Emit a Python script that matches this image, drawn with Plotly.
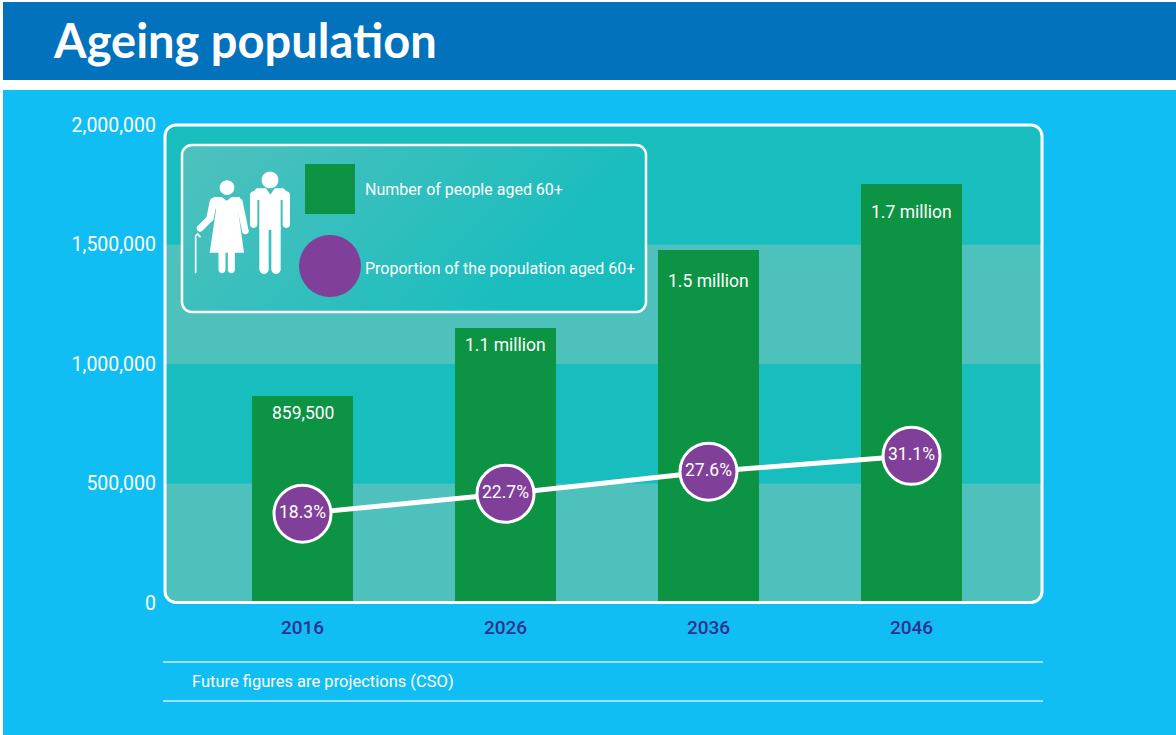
import base64, math
import plotly.graph_objects as go

# ---- data ----
years = ["2016", "2026", "2036", "2046"]
people = [868000, 1150000, 1479000, 1755000]
people_labels = ["859,500", "1.1 million", "1.5 million", "1.7 million"]
proportion = [18.3, 22.7, 27.6, 31.1]
proportion_labels = ["18.3%", "22.7%", "27.6%", "31.1%"]
y_ticks = [0, 500000, 1000000, 1500000, 2000000]
y_tick_labels = ["0", "500,000", "1,000,000", "1,500,000", "2,000,000"]
band_edges = [0, 500000, 1000000, 1500000, 2000000]
title = "Ageing population"
legend_people = "Number of people aged 60+"
legend_prop = "Proportion of the population aged 60+"
footnote = "Future figures are projections (CSO)"

# ---- colours / layout ----
W, H = 1176, 735
L, R, T, B = 165, 1042, 125, 603
C_HEAD, C_PANEL = "#0272BC", "#10BEF4"
C_TEAL, C_LIGHT = "#18BDBE", "#4FC1BD"
C_BAR, C_PURPLE, C_YEAR = "#0C9344", "#803F98", "#2E3192"
FONT = "Roboto"
label_drop = [17, 17, 31, 28]

def px(x): return (x - L) / (R - L)
def py(y): return (B - y) / (B - T)

def rrect(x0, y0, x1, y1, r_tl=0, r_tr=0, r_br=0, r_bl=0):
    """Rounded rectangle path given in page pixels, returned in paper units."""
    k = 0.45
    def P(x, y): return f"{px(x):.5f},{py(y):.5f}"
    s = f"M{P(x0+r_tl,y0)} L{P(x1-r_tr,y0)} "
    s += f"C{P(x1-r_tr*k,y0)} {P(x1,y0+r_tr*k)} {P(x1,y0+r_tr)} "
    s += f"L{P(x1,y1-r_br)} C{P(x1,y1-r_br*k)} {P(x1-r_br*k,y1)} {P(x1-r_br,y1)} "
    s += f"L{P(x0+r_bl,y1)} C{P(x0+r_bl*k,y1)} {P(x0,y1-r_bl*k)} {P(x0,y1-r_bl)} "
    s += f"L{P(x0,y0+r_tl)} C{P(x0,y0+r_tl*k)} {P(x0+r_tl*k,y0)} {P(x0+r_tl,y0)} Z"
    return s

def ref_shape(path, fill="rgba(0,0,0,0)", line=None, lw=0, layer="below"):
    return dict(type="path", path=path, xref="paper", yref="paper", fillcolor=fill,
                line=dict(color=line or "rgba(0,0,0,0)", width=lw), layer=layer)

def box(x0, y0, x1, y1, fill, layer="below"):
    return dict(type="rect", xref="paper", yref="paper", x0=px(x0), x1=px(x1),
                y0=py(y1), y1=py(y0), fillcolor=fill, line_width=0, layer=layer)

shapes = [box(3, 2, W, 80, C_HEAD), box(3, 90, W, H, C_PANEL)]

# plot bands
def val_y(v): return B - (B - T) * v / 2000000
for i in range(4):
    top, bot = val_y(band_edges[i + 1]), val_y(band_edges[i])
    colour = C_LIGHT if i % 2 == 0 else C_TEAL
    rt = 11 if i == 3 else 0
    rb = 11 if i == 0 else 0
    shapes.append(ref_shape(rrect(L, top, R, bot, rt, rt, rb, rb), fill=colour))
# plot border
shapes.append(ref_shape(rrect(L, 125, R, 602.5, 11, 11, 11, 11), line="white", lw=3, layer="above"))

# footer rules
for yy in (662, 701):
    shapes.append(dict(type="line", xref="paper", yref="paper", x0=px(163), x1=px(1043),
                       y0=py(yy), y1=py(yy), line=dict(color="#C9EEFB", width=1.5), layer="below"))

# legend box
BX0, BY0, BX1, BY1 = 182, 145, 646, 312
svg = (f'<svg xmlns="http://www.w3.org/2000/svg" width="{BX1-BX0}" height="{BY1-BY0}">'
       f'<defs><linearGradient id="g" x1="0" y1="0" x2="1" y2="0.35">'
       f'<stop offset="0" stop-color="{C_LIGHT}"/><stop offset="0.95" stop-color="{C_TEAL}"/>'
       f'</linearGradient></defs><rect width="100%" height="100%" rx="10" fill="url(#g)"/></svg>')
images = [dict(source="data:image/svg+xml;base64," + base64.b64encode(svg.encode()).decode(),
               xref="paper", yref="paper", x=px(BX0), y=py(BY0), sizex=px(BX1) - px(BX0),
               sizey=py(BY0) - py(BY1), xanchor="left", yanchor="top", sizing="stretch",
               layer="above")]
shapes.append(ref_shape(rrect(BX0, BY0, BX1, BY1, 10, 10, 10, 10), line="white", lw=2.5, layer="above"))
shapes.append(box(305, 164, 355, 214, C_BAR, layer="above"))
shapes.append(dict(type="circle", xref="paper", yref="paper", x0=px(299), x1=px(361),
                   y0=py(297), y1=py(235), fillcolor=C_PURPLE, line_width=0, layer="above"))

# figure icon (coordinates in a 3x zoomed space)
def zx(x): return 160 + x / 3
def zy(y): return 120 + y / 3
def poly(pts):
    return "M" + " L".join(f"{px(zx(a)):.5f},{py(zy(b)):.5f}" for a, b in pts) + " Z"
def capsule(x1, y1, x2, y2, r, n=10):
    ang = math.atan2(y2 - y1, x2 - x1)
    pts = []
    for i in range(n + 1):
        t = ang + math.pi / 2 + math.pi * i / n
        pts.append((x1 + r * math.cos(t), y1 + r * math.sin(t)))
    for i in range(n + 1):
        t = ang - math.pi / 2 + math.pi * i / n
        pts.append((x2 + r * math.cos(t), y2 + r * math.sin(t)))
    return poly(pts)
def disc(x, y, r):
    return poly([(x + r * math.cos(2 * math.pi * i / 32), y + r * math.sin(2 * math.pi * i / 32)) for i in range(32)])

icon = [
    disc(201, 203, 22),
    poly([(160, 231), (185, 231), (200, 242), (215, 231), (240, 231), (234, 270), (252, 398), (149, 398), (168, 270)]),
    capsule(160, 245, 150, 295, 11), capsule(150, 295, 120, 325, 10),
    capsule(238, 245, 256, 333, 10),
    capsule(186, 390, 186, 449, 10.5), capsule(214, 390, 214, 449, 10.5),
    capsule(107, 352, 107, 457, 2.5), capsule(107, 348, 113, 342, 2.5), capsule(113, 342, 120, 350, 2.5),
    disc(330, 180, 25),
    poly([(290, 205), (318, 205), (331, 224), (344, 205), (370, 205), (390, 225), (390, 240), (362, 240),
          (362, 330), (298, 330), (298, 240), (270, 240), (270, 225)]),
    capsule(281, 225, 281, 313, 11), capsule(379, 225, 379, 313, 11),
    capsule(312, 325, 312, 448, 14), capsule(348, 325, 348, 448, 14),
]
for p in icon:
    shapes.append(ref_shape(p, fill="white", layer="above"))

# ---- traces ----
fig = go.Figure()
fig.add_trace(go.Bar(x=years, y=people, width=0.4975, marker=dict(color=C_BAR, line_width=0),
                     hoverinfo="skip", showlegend=False))
fig.add_trace(go.Scatter(x=years, y=proportion, yaxis="y2", mode="lines+markers+text",
                         text=proportion_labels, textposition="middle center",
                         textfont=dict(family=FONT, size=17.5, color="white"),
                         line=dict(color="white", width=5),
                         marker=dict(size=57, color=C_PURPLE, line=dict(color="white", width=3)),
                         cliponaxis=False, hoverinfo="skip", showlegend=False))

# ---- annotations ----
ann = [dict(x=i, y=v, text=t, xref="x", yref="y", yshift=-d, showarrow=False,
            font=dict(family=FONT, size=17.5, color="white"))
       for i, (v, t, d) in enumerate(zip(people, people_labels, label_drop))]
def text_at(x, y, t, size, color="white", family=FONT, weight=None):
    f = dict(family=family, size=size, color=color)
    if weight: f["weight"] = weight
    return dict(x=px(x), y=py(y), xref="paper", yref="paper", text=t, showarrow=False,
                xanchor="left", yanchor="middle", font=f)
ann.append(text_at(51, 40, title, 47, family="Lato", weight=700))
ann.append(text_at(363, 189, legend_people, 16))
ann.append(text_at(363, 268, legend_prop, 16))
ann.append(text_at(190, 681, footnote, 16.5))

per_cat = 203
fig.update_layout(
    width=W, height=H, autosize=False,
    margin=dict(l=L, r=W - R, t=T, b=H - B, pad=0),
    paper_bgcolor="white", plot_bgcolor="rgba(0,0,0,0)",
    shapes=shapes, images=images, annotations=ann, bargap=0,
    xaxis=dict(type="category", categoryorder="array", categoryarray=years,
               range=[(L - 302.5) / per_cat, (R - 302.5) / per_cat],
               showgrid=False, zeroline=False, showline=False, ticks="",
               ticklabelstandoff=11, tickfont=dict(family=FONT, size=19, color=C_YEAR, weight=500)),
    yaxis=dict(range=[0, 2000000], tickvals=y_ticks, ticktext=y_tick_labels,
               showgrid=False, zeroline=False, showline=False, ticks="", ticklabelstandoff=8,
               tickfont=dict(family=FONT, size=19.5, color="white")),
    yaxis2=dict(range=[-1.5, 104.4], overlaying="y", side="right", visible=False),
)
fig.write_html("out.html", config=dict(displayModeBar=False),
               post_script="document.body.style.margin='0';document.body.style.overflow='hidden';")
